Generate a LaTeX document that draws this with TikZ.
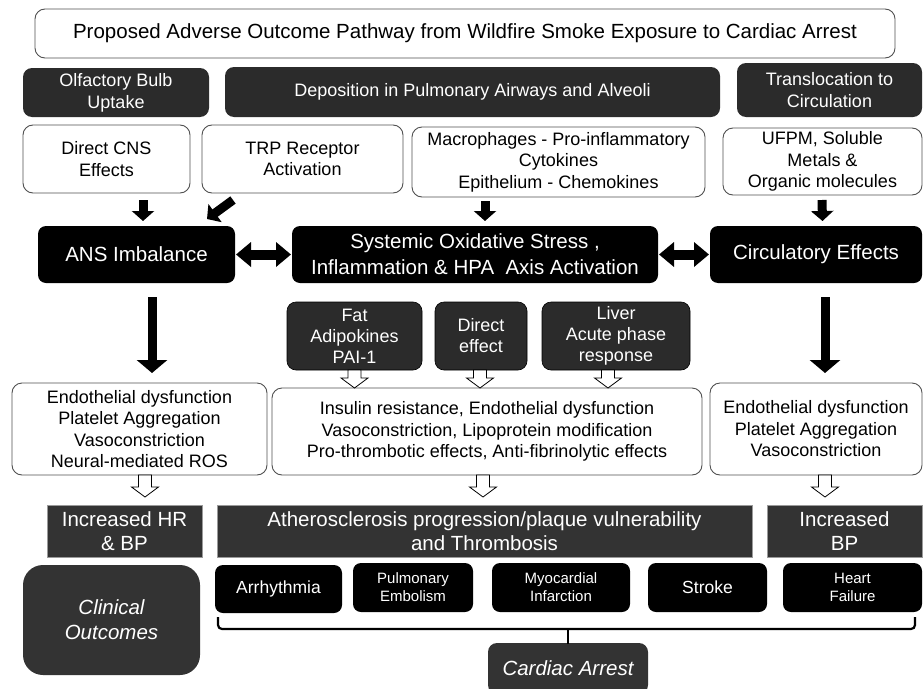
\documentclass[tikz,border=0pt]{standalone}
\usepackage{fontspec}
\setmainfont{Liberation Sans}
\usetikzlibrary{arrows.meta}
\definecolor{darkA}{HTML}{2B2B2B}
\definecolor{darkB}{HTML}{333333}
\definecolor{edgeG}{HTML}{505050}
\definecolor{rectedge}{HTML}{9A9A9A}
\newcommand{\fs}[2]{\fontsize{#1}{#2}\selectfont}
\newcommand{\mybox}[7]{\node[#2, minimum width={(#5-#3)*1pt}, minimum height={(#6-#4)*1pt}] (#1) at ({(#3+#5)/2},{(#4+#6)/2}) {#7};}
\tikzset{
  base/.style={align=center, inner sep=0pt, outer sep=0pt},
  whitebox/.style={base, rounded corners=10pt, draw=edgeG, line width=0.9pt, fill=white, font=\fs{18}{21.5}},
  blackbox/.style={base, rounded corners=8pt, fill=black, text=white, font=\fs{20.5}{26}},
  darkbox/.style={base, rounded corners=9pt, fill=darkA, text=white, font=\fs{18}{22}},
  smallbox/.style={base, rounded corners=9pt, fill=darkA, draw=black, line width=0.6pt, text=white, font=\fs{18}{21}},
  rectbox/.style={base, fill=darkB, draw=rectedge, line width=1pt, text=white, font=\fs{20.5}{24}},
  outbox/.style={base, rounded corners=8pt, fill=black, text=white, font=\fs{15}{18}},
  outboxL/.style={outbox, font=\fs{17.5}{20}},
  italbox/.style={base, fill=darkB, text=white, font=\fs{20.5}{25}\itshape},
  blk/.style={line width=9pt, -{Triangle[width=22pt,length=10pt]}},
  longblk/.style={line width=9pt, -{Triangle[width=30pt,length=13pt]}},
  dbl/.style={line width=10pt, {Triangle[width=24pt,length=15pt]}-{Triangle[width=24pt,length=15pt]}},
  brace/.style={line width=2.2pt, rounded corners=4pt},
  hollow/.pic={\draw[fill=white, draw=black, line width=0.8pt] (-6.5,0) -- (-6.5,#1-10) -- (-13.5,#1-10) -- (0,#1) -- (13.5,#1-10) -- (6.5,#1-10) -- (6.5,0) -- cycle;}
}
\begin{document}
\begin{tikzpicture}[x=1pt,y=-1pt]
\useasboundingbox (0,0) rectangle (923,688);
\fill[white] (0,0) rectangle (923,688);
% title
\mybox{title}{whitebox, font=\fs{20.5}{24}}{35}{9}{895}{58}{Proposed Adverse Outcome Pathway from Wildfire Smoke Exposure to Cardiac Arrest}
% row 1
\mybox{olf}{darkbox}{23}{68}{209}{117}{Olfactory Bulb\\Uptake}
\mybox{dep}{darkbox}{225}{67}{720}{117}{Deposition in Pulmonary Airways and Alveoli}
\mybox{trans}{darkbox}{737}{63}{922}{117}{Translocation to\\Circulation}
% row 2
\mybox{cns}{whitebox}{23}{125}{190}{193}{Direct CNS\\Effects}
\mybox{trp}{whitebox}{202}{125}{403}{193}{TRP Receptor\\Activation}
\mybox{macro}{whitebox}{412}{127}{705}{197}{Macrophages - Pro-inflammatory\\Cytokines\\Epithelium - Chemokines}
\mybox{ufpm}{whitebox}{723}{128}{922}{195}{UFPM, Soluble\\Metals \&\\Organic molecules}
% row 3
\mybox{ans}{blackbox}{38}{226}{235}{283}{ANS Imbalance}
\mybox{sys}{blackbox}{292}{226}{658}{283}{Systemic Oxidative Stress ,\\Inflammation \& HPA\ \ Axis Activation}
\mybox{circ}{blackbox}{710}{226}{922}{283}{Circulatory Effects}
% mediators
\mybox{fat}{smallbox}{287}{302}{422}{370}{Fat\\Adipokines\\PAI-1}
\mybox{direct}{smallbox}{435}{302}{527}{370}{Direct\\effect}
\mybox{liver}{smallbox}{542}{302}{690}{370}{Liver\\Acute phase\\response}
% effects row
\mybox{effL}{whitebox}{12}{383}{267}{475}{Endothelial dysfunction\\Platelet Aggregation\\Vasoconstriction\\Neural-mediated ROS}
\mybox{effM}{whitebox}{272}{388}{702}{475}{Insulin resistance, Endothelial dysfunction\\Vasoconstriction, Lipoprotein modification\\Pro-thrombotic effects, Anti-fibrinolytic effects}
\mybox{effR}{whitebox}{710}{383}{922}{475}{Endothelial dysfunction\\Platelet Aggregation\\Vasoconstriction}
% rectangles
\mybox{hrbp}{rectbox}{47}{505}{202}{557}{Increased HR\\\& BP}
\mybox{athero}{rectbox}{217}{505}{752}{557}{Atherosclerosis progression/plaque vulnerability\\and Thrombosis}
\mybox{bp}{rectbox}{767}{505}{922}{557}{Increased\\BP}
% outcomes
\mybox{clin}{italbox, rounded corners=20pt}{23}{565}{200}{675}{Clinical\\Outcomes}
\mybox{arr}{outboxL}{215}{565}{342}{613}{Arrhythmia}
\mybox{pe}{outbox}{353}{563}{473}{612}{Pulmonary\\Embolism}
\mybox{mi}{outbox}{492}{563}{630}{612}{Myocardial\\Infarction}
\mybox{stroke}{outboxL}{648}{563}{767}{612}{Stroke}
\mybox{hf}{outbox}{783}{563}{922}{612}{Heart\\Failure}
\mybox{cardiac}{italbox, rounded corners=9pt}{488}{643}{648}{694}{Cardiac Arrest}
% black arrows
\draw[blk] ([xshift=36.5pt,yshift=-7pt]cns.south) -- ([xshift=6.5pt,yshift=5pt]ans.north);
\draw[blk] ([xshift=-69.5pt,yshift=-7pt]trp.south) -- ([xshift=-28pt,yshift=7pt]ans.north east);
\draw[blk] ([xshift=-73.5pt,yshift=-4pt]macro.south) -- ([xshift=10pt,yshift=5pt]sys.north);
\draw[blk] ([xshift=-0.5pt,yshift=-5pt]ufpm.south) -- ([xshift=6.5pt,yshift=5pt]circ.north);
\draw[dbl] ([xshift=1pt]ans.east) -- ([xshift=-1pt]sys.west);
\draw[dbl] ([xshift=1pt]sys.east) -- ([xshift=-1pt]circ.west);
\draw[longblk] ([xshift=15.5pt,yshift=-14pt]ans.south) -- ([xshift=12.5pt,yshift=10pt]effL.north);
\draw[longblk] ([xshift=9pt,yshift=-14pt]circ.south) -- ([xshift=9pt,yshift=10pt]effR.north);
% hollow arrows
\pic at (fat.south) {hollow=18};
\pic at ([xshift=-1pt]direct.south) {hollow=18};
\pic at ([xshift=-8pt]liver.south) {hollow=18};
\pic at ([xshift=5.5pt]effL.south) {hollow=22};
\pic at ([xshift=-4pt]effM.south) {hollow=22};
\pic at ([xshift=9pt]effR.south) {hollow=22};
% brace
\coordinate (bl) at (218,617);
\coordinate (br) at (915,617);
\draw[brace] (bl) -- (218,629) -- (915,629) -- (br);
\draw[line width=2.2pt] ([yshift=-1pt]cardiac.north) -- ++(0,-15);
\end{tikzpicture}
\end{document}
